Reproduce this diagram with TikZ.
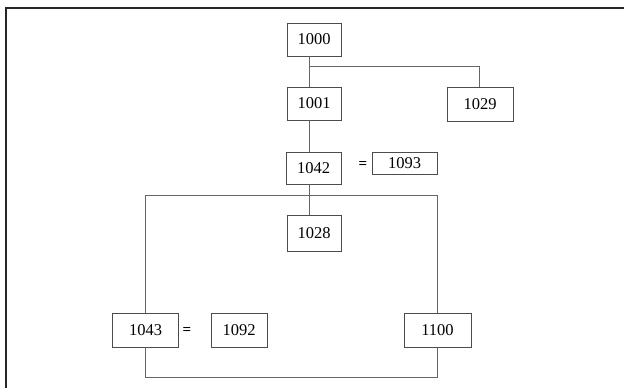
\documentclass[tikz,border=0pt]{standalone}
\usepackage{fontspec}
\setmainfont{Liberation Serif}
\begin{document}
\begin{tikzpicture}[x=1pt,y=-1pt,
  box/.style={draw=black!70, line width=0.9pt, fill=white, rectangle, inner sep=0pt, font=\fontsize{16.5}{16.5}\selectfont},
  link/.style={draw=black!60, line width=0.9pt},
  eq/.style={inner sep=0pt, font=\bfseries\fontsize{15}{15}\selectfont}]
\useasboundingbox (0,0) rectangle (624,388);
\fill[white] (0,0) rectangle (624,388);
\draw[line width=2pt, black!85] (5.5,388) -- (5.5,7.5) -- (624,7.5);
% trunk and junction coordinates
\coordinate (t) at (309,0);
\coordinate (br) at (309,66);
\coordinate (tl) at (145,195);
\coordinate (bl) at (145,377);
% nodes
\node[box, minimum width=54pt, minimum height=33pt] (n1000) at (314,39.5) {1000};
\node[box, minimum width=54pt, minimum height=33pt] (n1001) at (314,103.5) {1001};
\node[box, minimum width=66pt, minimum height=34pt] (n1029) at (480,104) {1029};
\node[box, minimum width=55pt, minimum height=32pt] (n1042) at (313.5,168) {1042};
\node[eq] (e1) at (363,165) {=};
\node[box, minimum width=65pt, minimum height=22pt] (n1093) at (404.5,163) {1093};
\node[box, minimum width=54pt, minimum height=36pt] (n1028) at (314,233) {1028};
\node[box, minimum width=66pt, minimum height=34pt] (n1043) at (145.5,330) {1043};
\node[eq] (e2) at (187,331) {=};
\node[box, minimum width=56pt, minimum height=34pt] (n1092) at (239,330) {1092};
\node[box, minimum width=67pt, minimum height=34pt] (n1100) at (437.5,330) {1100};
% connectors
\draw[link] (n1000.south -| t) -- (n1001.north -| t);
\draw[link] (br) -| (n1029.north -| 479,0);
\draw[link] (n1001.south -| t) -- (n1042.north -| t);
\draw[link] (n1042.south -| t) -- (n1028.north -| t);
\draw[link] (n1043.north -| tl) -- (tl) -- (tl -| 437,0) -- (n1100.north -| 437,0);
\draw[link] (n1043.south -| bl) -- (bl) -- (bl -| 437,0) -- (n1100.south -| 437,0);
\end{tikzpicture}
\end{document}
